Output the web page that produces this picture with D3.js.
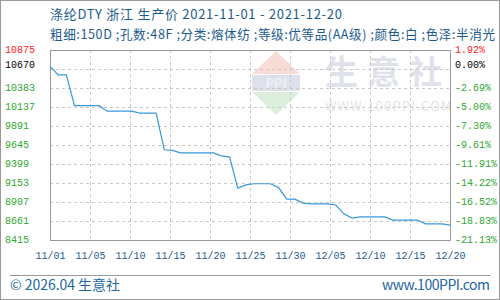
<!DOCTYPE html>
<html lang="zh">
<head>
<meta charset="UTF-8">
<script src="https://d3js.org/d3.v7.min.js"></script>
<style>
body { margin: 0; background: #fff; }
svg text { font-family: "Noto Sans CJK SC", "DejaVu Sans", sans-serif; }
.mono { font-family: "Liberation Mono", "DejaVu Sans Mono", monospace !important; font-size: 10px; }
</style>
</head>
<body>
<svg id="chart" width="500" height="300"></svg>
<script>
// daily price, 2021-11-01 .. 2021-12-20 (index 0 = 11/01)
var prices = [10670, 10560, 10560, 10160, 10160, 10160, 10160, 10090, 10090, 10090,
              10090, 10065, 10065, 10065, 9590, 9582, 9550, 9550, 9550, 9550,
              9550, 9510, 9495, 9092, 9135, 9150, 9150, 9150, 9100, 8950,
              8950, 8900, 8890, 8890, 8890, 8875, 8760, 8705, 8720, 8720,
              8720, 8720, 8680, 8680, 8680, 8680, 8630, 8630, 8630, 8615];
var yTicks = [10875, 10629, 10383, 10137, 9891, 9645, 9399, 9153, 8907, 8661, 8415];
var yLabels = ["10875", "10670", "10383", "10137", "9891", "9645", "9399", "9153", "8907", "8661", "8415"];
var pctLabels = ["1.92%", "0.00%", "-2.69%", "-5.00%", "-7.30%", "-9.61%", "-11.91%", "-14.22%", "-16.52%", "-18.83%", "-21.13%"];
var xLabels = ["11/01", "11/05", "11/10", "11/15", "11/20", "11/25", "11/30", "12/05", "12/10", "12/15", "12/20"];
var base = 10670;

var svg = d3.select("#chart");
var L = 50, R = 450, T = 50, B = 240;
var x = d3.scaleLinear().domain([0, prices.length - 1]).range([L, R]);
var y = d3.scaleLinear().domain([8415, 10875]).range([B, T]);
var xt = d3.range(xLabels.length).map(function(i){ return i * (prices.length - 1) / (xLabels.length - 1); });

// outer frame
svg.append("rect").attr("x", 0.5).attr("y", 0.5).attr("width", 499).attr("height", 299)
  .attr("fill", "none").attr("stroke", "#999");

// titles
svg.append("text").attr("x", 50).attr("y", 19).attr("font-size", 13).attr("fill", "#1d5b8d")
  .attr("textLength", 292).attr("lengthAdjust", "spacing")
  .text("涤纶DTY 浙江 生产价 2021-11-01 - 2021-12-20");
svg.append("text").attr("x", 50).attr("y", 39).attr("font-size", 12.6).attr("fill", "#1d5b8d")
  .attr("textLength", 445).attr("lengthAdjust", "spacing")
  .text("粗细:150D ;孔数:48F ;分类:熔体纺 ;等级:优等品(AA级) ;颜色:白 ;色泽:半消光");

// watermark
var wm = svg.append("g");
wm.append("path").attr("d", "M276,51 L300,74 L252,74 Z").attr("fill", "#fadcd6");
wm.append("rect").attr("x", 252).attr("y", 75).attr("width", 48).attr("height", 16).attr("fill", "#dde1ec");
wm.append("text").attr("x", 276).attr("y", 88).attr("text-anchor", "middle").attr("font-size", 13)
  .attr("font-weight", "bold").attr("fill", "#eef0f6").attr("font-family", "Liberation Serif, serif").text("PPI");
wm.append("path").attr("d", "M252,92 L300,92 L276,115 Z").attr("fill", "#dcefdc");
wm.append("text").attr("x", 325).attr("y", 84).attr("font-size", 33).attr("font-weight", "bold")
  .attr("fill", "#dfe2ea").attr("letter-spacing", 9).text("生意社");
wm.append("text").attr("x", 325).attr("y", 111).attr("font-size", 13).attr("fill", "#e4e4e4")
  .attr("letter-spacing", 1.2).attr("font-family", "Liberation Sans, sans-serif").text("WWW.100PPI.COM");

// grid
var grid = svg.append("g").attr("stroke", "#c8c8c8").attr("stroke-dasharray", "3,3");
grid.selectAll(".h").data(yTicks.slice(1, -1)).enter().append("line")
  .attr("x1", L).attr("x2", R)
  .attr("y1", function(d){ return Math.round(y(d)) + 0.5; })
  .attr("y2", function(d){ return Math.round(y(d)) + 0.5; });
grid.selectAll(".v").data(xt.slice(1, -1)).enter().append("line")
  .attr("y1", T).attr("y2", B)
  .attr("x1", function(d){ return Math.round(x(d)) + 0.5; })
  .attr("x2", function(d){ return Math.round(x(d)) + 0.5; });

// plot frame
svg.append("rect").attr("x", L + 0.5).attr("y", T + 0.5).attr("width", R - L).attr("height", B - T)
  .attr("fill", "none").attr("stroke", "#999");

// line
svg.append("path").datum(prices)
  .attr("fill", "none").attr("stroke", "#3a98d8").attr("stroke-width", 1.2)
  .attr("d", d3.line().x(function(d, i){ return x(i); }).y(function(d){ return y(d) + 0.5; }));

// left / right labels
function lblColor(i){ return i == 0 ? "#ff2020" : (i == 1 ? "#000" : "#2ea82e"); }
function lblY(i){ return (i == 1 ? y(base) : y(yTicks[i])) - 1; }
svg.selectAll(".yl").data(yLabels).enter().append("text")
  .attr("class", "mono").attr("x", 5).attr("y", function(d, i){ return lblY(i); })
  .attr("dy", "0.35em").attr("fill", function(d, i){ return lblColor(i); })
  .text(function(d){ return d; });
svg.selectAll(".pl").data(pctLabels).enter().append("text")
  .attr("class", "mono").attr("x", 455).attr("y", function(d, i){ return lblY(i); })
  .attr("dy", "0.35em").attr("fill", function(d, i){ return lblColor(i); })
  .text(function(d){ return d; });

// x axis labels
var xAxis = d3.axisBottom(x).tickValues(xt).tickSize(0).tickPadding(0)
  .tickFormat(function(d, i){ return xLabels[i]; });
var xa = svg.append("g").attr("transform", "translate(0," + (B + 12) + ")").call(xAxis);
xa.select(".domain").remove();
xa.selectAll("text").attr("class", "mono").attr("fill", "#1d5b8d");

// footer
svg.append("line").attr("x1", 10).attr("x2", 490).attr("y1", 275.5).attr("y2", 275.5).attr("stroke", "#999");
svg.append("text").attr("x", 10).attr("y", 290).attr("font-size", 14).attr("fill", "#2466a0")
  .attr("textLength", 110).attr("lengthAdjust", "spacing").text("© 2026.04 生意社");
svg.append("text").attr("x", 382).attr("y", 290).attr("font-size", 14)
  .attr("textLength", 108).attr("lengthAdjust", "spacing")
  .attr("fill", "#2466a0").attr("font-family", "DejaVu Sans, sans-serif").text("www.100PPI.com");
</script>
</body>
</html>
